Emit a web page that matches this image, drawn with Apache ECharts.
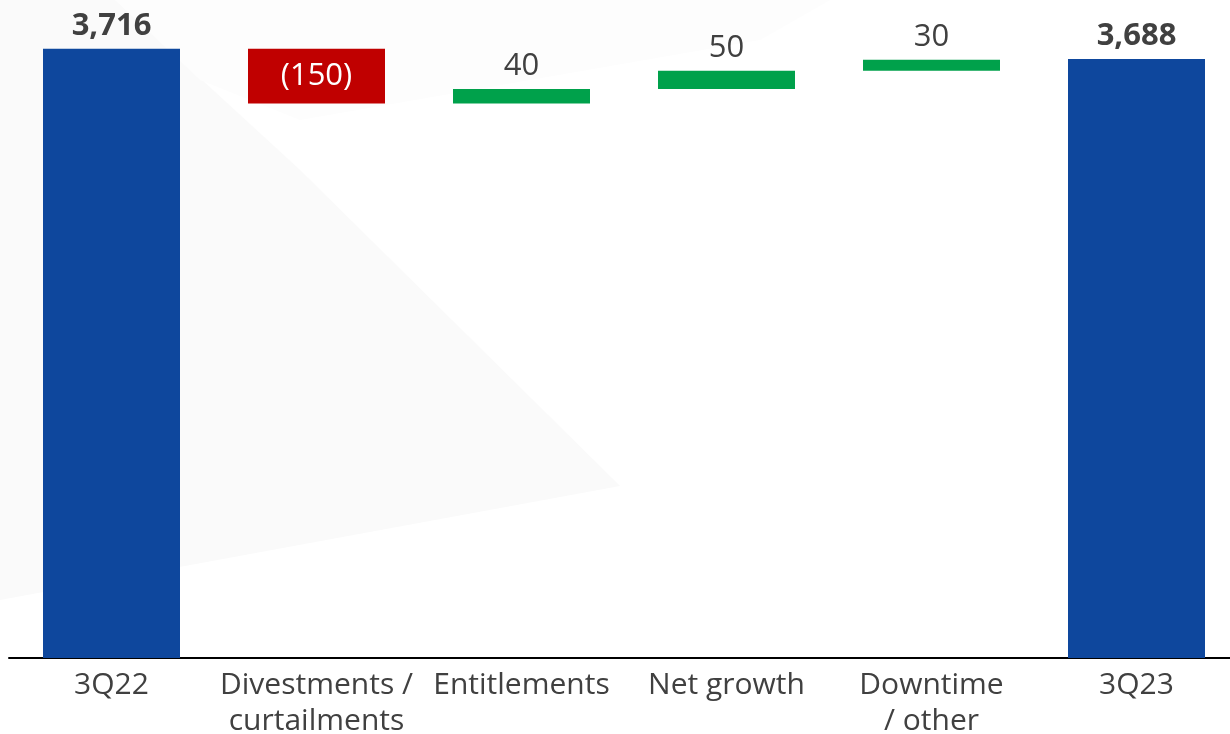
<!DOCTYPE html>
<html>
<head>
<meta charset="utf-8">
<script src="https://cdn.jsdelivr.net/npm/echarts@6/dist/echarts.min.js"></script>
<style>
html,body{margin:0;padding:0;background:#fff;overflow:hidden;}
#chart{width:1230px;height:734px;}
</style>
</head>
<body>
<div id="chart"></div>
<script>
const categories = ['3Q22', 'Divestments /\ncurtailments', 'Entitlements', 'Net growth', 'Downtime\n/ other', '3Q23'];
const values = [3716, -150, 40, 50, 30, 3688];
const kinds = ['total', 'delta', 'delta', 'delta', 'delta', 'total'];
const valueLabels = ['3,716', '(150)', '40', '50', '30', '3,688'];

const BLUE = '#0E479D', RED = '#C00000', GREEN = '#00A14B', TXT = '#404040';
const FONT = 'Open Sans';

const baseData = [], barData = [];
let running = 0;
values.forEach((v, i) => {
  if (kinds[i] === 'total') {
    running = v;
    baseData.push(0);
    barData.push({
      value: v,
      itemStyle: { color: BLUE },
      label: { show: true, position: 'top', formatter: valueLabels[i], fontWeight: 'bold', color: TXT, fontSize: 31, fontFamily: FONT, distance: 7 }
    });
  } else {
    const after = running + v;
    baseData.push(Math.min(running, after));
    const neg = v < 0;
    barData.push({
      value: Math.abs(v),
      itemStyle: { color: neg ? RED : GREEN },
      label: neg
        ? { show: true, position: 'inside', formatter: valueLabels[i], color: '#fff', fontSize: 31, fontFamily: FONT }
        : { show: true, position: 'top', formatter: valueLabels[i], color: TXT, fontSize: 31, fontFamily: FONT, distance: 7 }
    });
    running = after;
  }
});

const chart = echarts.init(document.getElementById('chart'), null, { renderer: 'canvas' });
chart.setOption({
  backgroundColor: '#ffffff',
  animation: false,
  graphic: [
    { type: 'polygon', z: -10, silent: true, shape: { points: [[0,0],[115,0],[300,170],[620,486],[0,600]] }, style: { fill: '#fafafa' } },
    { type: 'polygon', z: -9, silent: true, shape: { points: [[115,0],[830,0],[760,40],[300,120],[200,80]] }, style: { fill: '#fdfdfd' } }
  ],
  grid: { left: 9, width: 1230, top: 18, bottom: 76, outerBoundsMode: 'none', containLabel: false },
  xAxis: {
    type: 'category',
    data: categories,
    axisLine: { lineStyle: { color: '#000', width: 2 } },
    axisTick: { show: false },
    axisLabel: { interval: 0, color: TXT, fontSize: 30, lineHeight: 36, margin: 9, fontFamily: FONT }
  },
  yAxis: {
    type: 'value',
    min: 2050,
    max: 3800,
    show: false,
    splitLine: { show: false }
  },
  series: [
    { type: 'bar', stack: 'wf', data: baseData, barWidth: 137, itemStyle: { color: 'transparent' }, silent: true },
    { type: 'bar', stack: 'wf', data: barData, barWidth: 137 }
  ]
});
</script>
</body>
</html>
